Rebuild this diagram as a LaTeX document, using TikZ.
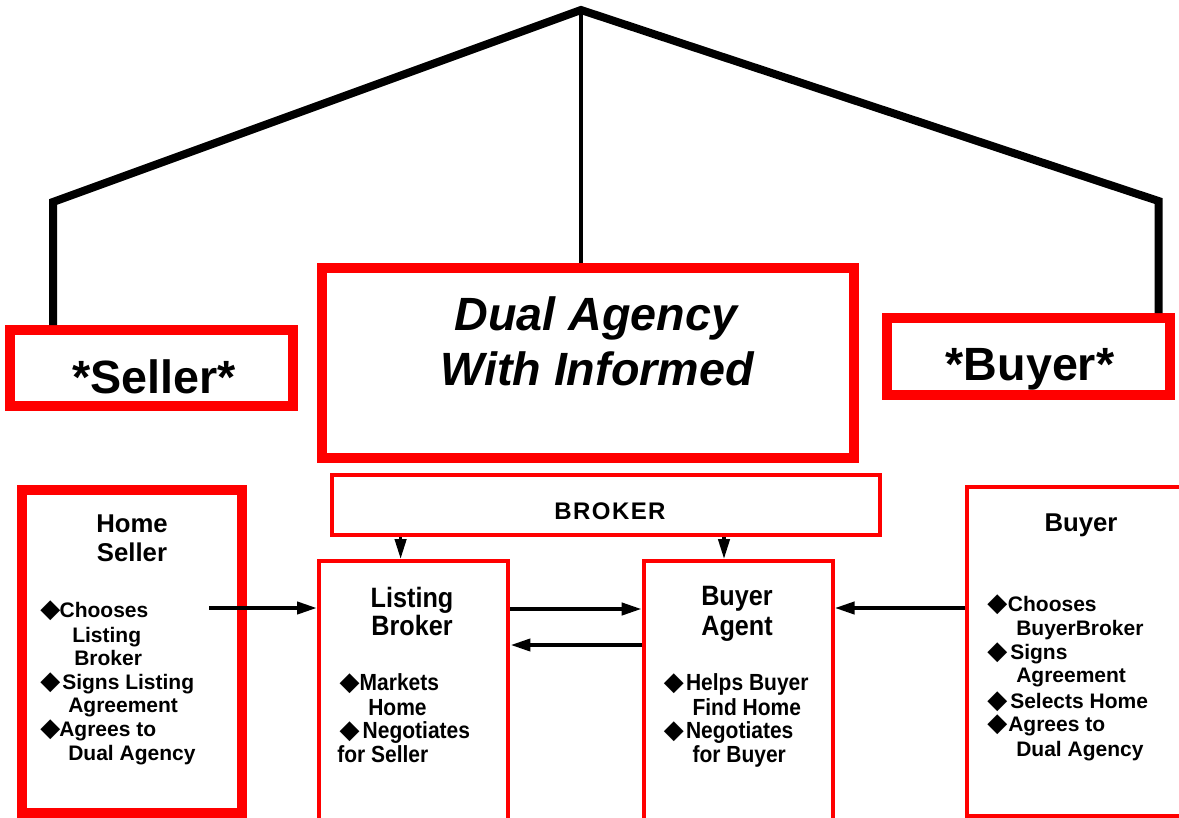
\documentclass[tikz,border=0pt]{standalone}
\usepackage{fontspec}
\setmainfont{Liberation Sans}
\newfontfamily\condensed{Liberation Sans}[FakeStretch=0.9]
\newfontfamily\spaced{Liberation Sans}[LetterSpace=6]
\newfontfamily\glyphs{DejaVu Sans}
\usetikzlibrary{arrows.meta,calc}
\definecolor{boxred}{RGB}{255,0,0}
% bullet diamond set in a box of given width (its height kept out of the line)
\newcommand\dm[1]{\makebox[#1][l]{\smash{\glyphs\fontsize{19.5}{19.5}\selectfont ◆}}}

\begin{document}
\begin{tikzpicture}[x=0.75pt,y=-0.75pt,
  heavy/.style={draw=boxred, line width=7.5pt, inner sep=0pt},
  light/.style={draw=boxred, line width=3pt, inner sep=0pt},
  roof/.style={line width=6pt, line join=miter},
  stem/.style={line width=3pt},
  arr/.style={line width=3pt, -{Triangle[length=15pt,width=9pt]}},
  varr/.style={line width=2.5pt, -{Triangle[length=15pt,width=8.5pt]}},
  party/.style={anchor=base, inner sep=0pt, font=\fontsize{35}{35}\selectfont\bfseries},
  headline/.style={anchor=base, inner sep=0pt, font=\fontsize{35}{35}\selectfont\bfseries\itshape},
  sidetitle/.style={anchor=base, inner sep=0pt, font=\fontsize{19.3}{22}\selectfont\bfseries},
  midtitle/.style={anchor=base, inner sep=0pt, font=\condensed\fontsize{21}{22}\selectfont\bfseries},
  sideitem/.style={anchor=base west, inner sep=0pt, font=\fontsize{15.75}{18}\selectfont\bfseries},
  miditem/.style={anchor=base west, inner sep=0pt, font=\condensed\fontsize{17.5}{18}\selectfont\bfseries},
  brokertext/.style={anchor=base, inner sep=0pt, font=\spaced\fontsize{18}{18}\selectfont\bfseries}
]
\useasboundingbox (0,0) rectangle (1179,818);

% ---- boxes ----
\node[heavy, minimum width=212.25pt, minimum height=57pt]     (sellerTop) at (151.5,368) {};
\node[heavy, minimum width=399pt,    minimum height=142.5pt]  (dual)      at (588,363) {};
\node[heavy, minimum width=212.25pt, minimum height=58.1pt]   (buyerTop)  at (1028,356.75) {};
\node[heavy, minimum width=165.2pt,  minimum height=242.25pt] (homeSeller) at (131.85,651.5) {};
\node[light, minimum width=411pt,    minimum height=45pt]     (broker)    at (606,505) {};
\node[light, minimum width=142.1pt,  minimum height=201.75pt] (listing)   at (413.75,695.5) {};
\node[light, minimum width=141.7pt,  minimum height=201.75pt] (agent)     at (738.15,695.5) {};
\node[light, minimum width=167.25pt, minimum height=246.75pt] (buyer)     at (1078.5,651.5) {};

% ---- roof ----
\coordinate (apex) at (581,10);
\coordinate (lc) at (53,202);
\coordinate (rc) at (1158.5,201);
\draw[roof] (sellerTop.north -| lc) -- (lc) -- (apex) -- (rc) -- (buyerTop.north -| rc);
\draw[stem] (apex) -- (dual.north -| apex);

% ---- top labels ----
\node[party] (sellerLbl) at (154,393) {*Seller*};
\node[party] (buyerLbl) at (1030,380) {*Buyer*};
\node[headline] (dualA) at (596,330) {Dual Agency};
\node[headline] (dualB) at (597,385) {With Informed};

% ---- box titles ----
\node[brokertext] (brokerLbl) at (610,519) {BROKER};
\node[sidetitle] (hsA) at (132,532) {Home};
\node[sidetitle] (hsB) at (132,561) {Seller};
\node[sidetitle] (byA) at (1081,531) {Buyer};
\node[midtitle] (lbA) at (412,607) {Listing};
\node[midtitle] (lbB) at (412,635) {Broker};
\node[midtitle] (baA) at (737,605) {Buyer};
\node[midtitle] (baB) at (737,635) {Agent};

% ---- bullet lists ----
\foreach \x/\y/\t [count=\i] in {
  40/617/{\dm{14.5pt}Chooses}, 72/642/{Listing}, 74/665/{Broker},
  40/689/{\dm{16.5pt}Signs Listing}, 68/712/{Agreement},
  40/736/{\dm{14.25pt}Agrees to}, 68/760/{Dual Agency}}
  \node[sideitem] (hsItem\i) at (\x,\y) {\t};

\foreach \x/\y/\t [count=\i] in {
  987/611/{\dm{15.5pt}Chooses}, 1016/635/{BuyerBroker},
  987/659/{\dm{17.25pt}Signs}, 1016/682/{Agreement},
  987/708.5/{\dm{17.25pt}Selects Home},
  987/731.5/{\dm{15.75pt}Agrees to}, 1016/756/{Dual Agency}}
  \node[sideitem] (byItem\i) at (\x,\y) {\t};

\foreach \x/\y/\t [count=\i] in {
  339.4/690/{\dm{15pt}Markets}, 368/715/{Home},
  339.4/738/{\dm{17.25pt}Negotiates}, 337/762/{for Seller}}
  \node[miditem] (lbItem\i) at (\x,\y) {\t};

\foreach \x/\y/\t [count=\i] in {
  663.6/690/{\dm{16.65pt}Helps Buyer}, 692.3/715/{Find Home},
  663.6/738/{\dm{16.65pt}Negotiates}, 692.3/762/{for Buyer}}
  \node[miditem] (baItem\i) at (\x,\y) {\t};

% ---- connectors ----
\coordinate (hsOut) at (209,608);
\draw[arr] (hsOut) -- (hsOut -| listing.west);
\draw[arr] (listing.east |- 0,609) -- (agent.west |- 0,609);
\draw[arr] (agent.west |- 0,645) -- (listing.east |- 0,645);
\draw[arr] (buyer.west |- 0,608) -- (agent.east |- 0,608);
\draw[varr] (broker.south -| 400.6,0) -- (listing.north -| 400.6,0);
\draw[varr] (broker.south -| 724,0) -- (agent.north -| 724,0);
\end{tikzpicture}
\end{document}
